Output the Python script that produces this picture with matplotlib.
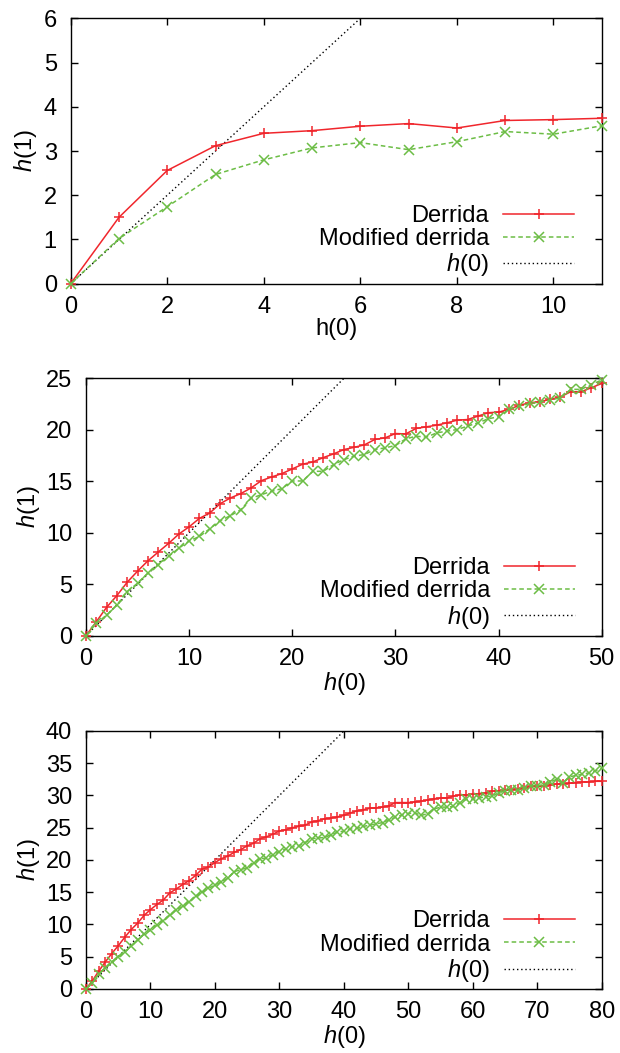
import numpy as np
import matplotlib
matplotlib.use("Agg")
import matplotlib.pyplot as plt

plt.rcParams['font.family'] = ['Liberation Sans', 'DejaVu Sans']
plt.rcParams['mathtext.fontset'] = 'custom'
plt.rcParams['mathtext.it'] = 'Liberation Sans:italic'
plt.rcParams['mathtext.rm'] = 'Liberation Sans'

# ---------------- data ----------------
x1 = list(range(0, 12))
derrida1 = [0, 1.50, 2.56, 3.12, 3.40, 3.46, 3.56, 3.62, 3.52, 3.69, 3.71, 3.74]
modified1 = [0, 1.02, 1.74, 2.47, 2.80, 3.07, 3.19, 3.03, 3.21, 3.44, 3.38, 3.57]

x2 = list(range(0, 51))
derrida2 = [0, 1.36, 2.76, 3.9, 5.2, 6.27, 7.27, 8.12, 8.96, 9.87, 10.58,
            11.4, 11.92, 12.82, 13.38, 13.8, 14.35, 15.06, 15.42, 15.75, 16.2,
            16.66, 16.88, 17.3, 17.66, 18.08, 18.3, 18.54, 19.06, 19.22, 19.64,
            19.6, 20.13, 20.29, 20.45, 20.68, 20.94, 21.0, 21.33, 21.66, 21.72,
            21.98, 22.37, 22.63, 22.73, 22.95, 23.2, 23.7, 23.7, 24.09, 24.5]
modified2 = [0, 1.2, 2.0, 2.99, 4.29, 5.1, 6.07, 6.88, 7.7, 8.5, 9.2,
             9.64, 10.39, 11.17, 11.66, 12.24, 13.34, 13.7, 14.03, 14.29, 15.03,
             15.03, 15.97, 15.97, 16.62, 17.1, 17.44, 17.6, 18.08, 18.25, 18.47,
             19.12, 19.38, 19.29, 19.7, 19.87, 20.03, 20.36, 20.68, 21.07, 21.27,
             21.98, 22.3, 22.56, 22.7, 22.89, 23.12, 23.93, 23.93, 24.4, 24.84]

x3 = list(range(0, 81))
derrida3 = [0, 1.3, 2.8, 4.2, 5.5, 6.7, 8.0, 9.2, 10.2, 11.4, 12.3,
            13.1, 13.8, 14.9, 15.5, 16.2, 16.8, 17.6, 18.6, 18.9, 19.6,
            20.2, 20.6, 21.2, 21.6, 22.2, 22.6, 23.3, 23.6, 24.0, 24.5,
            24.7, 25.0, 25.2, 25.4, 25.9, 26.1, 26.4, 26.5, 26.7, 26.9,
            27.3, 27.6, 27.8, 28.0, 28.1, 28.2, 28.4, 28.9, 28.9, 28.9,
            29.0, 29.1, 29.3, 29.5, 29.6, 29.6, 29.9, 30.1, 30.1, 30.2,
            30.3, 30.4, 30.7, 30.7, 30.8, 30.9, 31.0, 31.2, 31.4, 31.4,
            31.5, 31.6, 31.8, 31.8, 31.9, 32.0, 32.1, 32.1, 32.2, 32.2]
modified3 = [0, 1.0, 2.3, 3.3, 4.2, 5.0, 5.7, 6.6, 7.6, 8.5, 9.1,
             9.9, 10.6, 11.5, 12.2, 12.9, 13.5, 14.4, 15.0, 15.6, 16.1,
             16.6, 17.2, 18.2, 18.5, 18.8, 19.6, 20.2, 20.3, 20.8, 21.3,
             21.7, 22.0, 22.2, 22.7, 23.3, 23.4, 23.5, 23.9, 24.3, 24.5,
             24.8, 24.9, 25.2, 25.4, 25.6, 25.8, 26.2, 26.6, 27.0, 27.2,
             27.3, 26.9, 27.2, 27.9, 28.2, 28.2, 28.3, 28.9, 29.4, 29.4,
             29.6, 29.8, 29.9, 30.4, 30.7, 30.9, 30.8, 31.1, 31.5, 31.5,
             31.7, 32.1, 32.5, 31.9, 32.9, 33.1, 33.3, 33.5, 33.8, 34.2]

series_labels = ["Derrida", "Modified derrida", r"$h$(0)"]
xlabels = ["h(0)", r"$h$(0)", r"$h$(0)"]
ylabel = r"$h$(1)"

panels = [
    dict(x=x1, d=derrida1, m=modified1, xlim=(0, 11), ylim=(0, 6),
         xticks=[0, 2, 4, 6, 8, 10], yticks=[0, 1, 2, 3, 4, 5, 6],
         rect=[0.114, 0.7306, 0.8565, 0.252]),
    dict(x=x2, d=derrida2, m=modified2, xlim=(0, 50), ylim=(0, 25),
         xticks=[0, 10, 20, 30, 40, 50], yticks=[0, 5, 10, 15, 20, 25],
         rect=[0.1387, 0.3963, 0.8318, 0.2444]),
    dict(x=x3, d=derrida3, m=modified3, xlim=(0, 80), ylim=(0, 40),
         xticks=list(range(0, 81, 10)), yticks=list(range(0, 41, 5)),
         rect=[0.1387, 0.0608, 0.8318, 0.245]),
]

RED = '#f0262c'
GREEN = '#6cbd45'
FS = 17

fig = plt.figure(figsize=(6.2, 10.53), dpi=100)
for i, p in enumerate(panels):
    ax = fig.add_axes(p['rect'])
    xs = np.array(p['x'], dtype=float)
    ax.plot(xs, p['d'], color=RED, lw=1.1, marker='+', ms=7, mew=1.1,
            label=series_labels[0], clip_on=False, zorder=3)
    ax.plot(xs, p['m'], color=GREEN, lw=1.1, ls=(0, (3, 2)), marker='x', ms=7,
            mew=1.1, label=series_labels[1], clip_on=False, zorder=3)
    ax.plot(xs, xs, color='black', lw=1.0, ls=(0, (1, 2)),
            label=series_labels[2], zorder=2)
    ax.set_xlim(*p['xlim'])
    ax.set_ylim(*p['ylim'])
    ax.set_xticks(p['xticks'])
    ax.set_yticks(p['yticks'])
    ax.tick_params(direction='in', top=True, right=True, length=5, width=1,
                   labelsize=FS)
    ax.tick_params(axis='y', pad=10)
    ax.tick_params(axis='x', pad=9)
    for s in ax.spines.values():
        s.set_linewidth(1.0)
    ax.set_xlabel(xlabels[i], fontsize=FS, labelpad=0)
    ax.set_ylabel(ylabel, fontsize=FS, labelpad=3)
    leg = ax.legend(loc='lower right', bbox_to_anchor=(0.948, 0.02),
                    frameon=False, markerfirst=False, numpoints=1,
                    handlelength=3.0, handletextpad=0.6, labelspacing=0.05,
                    borderpad=0, borderaxespad=0, fontsize=FS)
    for t in leg.get_texts():
        t.set_ha('right')

fig.savefig('out.png', dpi=100)
